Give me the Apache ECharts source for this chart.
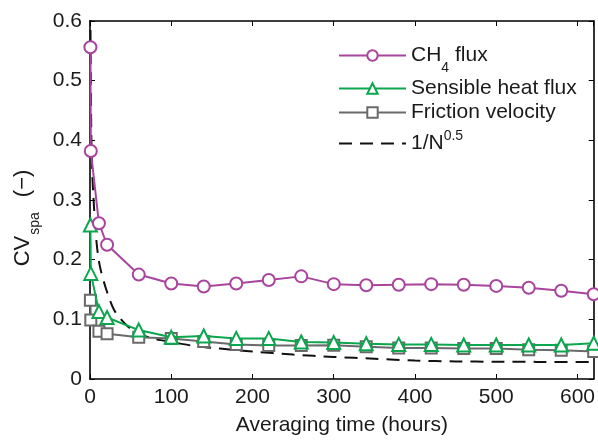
<!DOCTYPE html>
<html>
<head>
<meta charset="utf-8">
<script src="https://cdn.jsdelivr.net/npm/echarts@6/dist/echarts.min.js"></script>
<style>html,body{margin:0;padding:0;background:#fff;}#c{width:598px;height:441px;}</style>
</head>
<body>
<div id="c"></div>
<script>
// Averaging times (hours)
var times = [0.5, 1, 11, 21, 60, 100, 140, 180, 220, 260, 300, 340, 380, 420, 460, 500, 540, 580, 620];
var ch4Flux = [0.556, 0.382, 0.261, 0.225, 0.175, 0.160, 0.155, 0.160, 0.166, 0.172, 0.159, 0.157, 0.158, 0.159, 0.158, 0.156, 0.153, 0.148, 0.142];
var sensibleHeat = [0.258, 0.177, 0.113, 0.103, 0.082, 0.070, 0.072, 0.068, 0.068, 0.062, 0.061, 0.059, 0.058, 0.058, 0.057, 0.057, 0.057, 0.057, 0.060];
var frictionVel = [0.132, 0.099, 0.080, 0.076, 0.070, 0.068, 0.063, 0.058, 0.056, 0.056, 0.0565, 0.054, 0.052, 0.052, 0.051, 0.051, 0.049, 0.048, 0.046];
// 1/N^0.5 reference curve
var refTimes = [0.5, 1, 2, 4, 8, 12, 20, 30, 45, 60, 80, 100, 130, 160, 200, 250, 300, 350, 400, 450, 500, 550, 620];
var refValues = [0.62, 0.5, 0.38, 0.31, 0.23, 0.19, 0.15, 0.115, 0.09, 0.076, 0.067, 0.062, 0.055, 0.051, 0.046, 0.041, 0.037, 0.034, 0.031, 0.0295, 0.029, 0.0287, 0.0285];
var seriesNames = ['CH4 flux', 'Sensible heat flux', 'Friction velocity', '1/N^0.5'];

function pairs(xs, ys) { return xs.map(function (x, i) { return [x, ys[i]]; }); }

var FONT = '"Liberation Sans", Arial, Helvetica, sans-serif';
var TXT = '#1a1a1a';
var chart = echarts.init(document.getElementById('c'), null, { renderer: 'canvas' });

var axisLineStyle = { color: '#000', width: 1.6 };
var legendText = {
  fontSize: 21, fontFamily: FONT, color: TXT, padding: [0, 0, 0, 0],
  rich: {
    n: { fontSize: 21, fontFamily: FONT, color: TXT, lineHeight: 23 },
    sub: { fontSize: 14, fontFamily: FONT, color: TXT, lineHeight: 23, verticalAlign: 'bottom', padding: [0, 0, -8, 0] },
    sup: { fontSize: 14, fontFamily: FONT, color: TXT, lineHeight: 23, verticalAlign: 'top', padding: [-3, 0, 0, 0] }
  }
};
function legendFormatter(name) {
  if (name === 'CH4 flux') return '{n|CH}{sub|4}{n| flux}';
  if (name === '1/N^0.5') return '{n|1/N}{sup|0.5}';
  return '{n|' + name + '}';
}
chart.setOption({
  animation: false,
  backgroundColor: '#fff',
  grid: { left: 90, right: 2, top: 21, bottom: 56, containLabel: false },
  xAxis: [
    {
      type: 'value', min: 0, max: 620, interval: 100, position: 'bottom',
      axisLine: { show: true, onZero: false, lineStyle: axisLineStyle },
      axisTick: { show: true, inside: true, length: 5, lineStyle: { color: '#000', width: 1 } },
      splitLine: { show: false },
      axisLabel: { show: true, showMaxLabel: false, margin: 8, fontSize: 21, fontFamily: FONT, color: TXT },
      name: 'Averaging time (hours)', nameLocation: 'middle', nameGap: 36,
      nameTextStyle: { fontSize: 21, fontFamily: FONT, color: TXT }
    },
    {
      type: 'value', min: 0, max: 620, interval: 100, position: 'top',
      axisLine: { show: true, onZero: false, lineStyle: axisLineStyle },
      axisTick: { show: true, inside: true, length: 5, lineStyle: { color: '#000', width: 1 } },
      splitLine: { show: false }, axisLabel: { show: false }
    }
  ],
  yAxis: [
    {
      type: 'value', min: 0, max: 0.6, interval: 0.1, position: 'left',
      axisLine: { show: true, onZero: false, lineStyle: axisLineStyle },
      axisTick: { show: true, inside: true, length: 5, lineStyle: { color: '#000', width: 1 } },
      splitLine: { show: false },
      axisLabel: { margin: 8, fontSize: 21, fontFamily: FONT, color: TXT,
        formatter: function (v) { return v === 0 ? '0' : v.toFixed(1); } },
      name: '{m|CV}{s|spa}{g| }{m|(\u2212)}', nameLocation: 'middle', nameGap: 52, nameRotate: 90,
      nameTextStyle: {
        fontFamily: FONT, color: TXT, padding: [0, 36, 0, 0],
        rich: {
          m: { fontSize: 22, fontFamily: FONT, color: TXT, verticalAlign: 'bottom', lineHeight: 24 },
          g: { fontSize: 22, fontFamily: FONT, color: TXT, verticalAlign: 'bottom', lineHeight: 24, padding: [0, 9, 0, 0] },
          s: { fontSize: 14, fontFamily: FONT, color: TXT, verticalAlign: 'bottom', lineHeight: 24, padding: [0, 0, -8, 1] }
        }
      }
    },
    {
      type: 'value', min: 0, max: 0.6, interval: 0.1, position: 'right',
      axisLine: { show: true, onZero: false, lineStyle: axisLineStyle },
      axisTick: { show: true, inside: true, length: 5, lineStyle: { color: '#000', width: 1 } },
      splitLine: { show: false }, axisLabel: { show: false }
    }
  ],
  legend: [
    {
      left: 333, top: 40, orient: 'vertical', itemWidth: 67, itemHeight: 13, itemGap: 3,
      data: [seriesNames[0], seriesNames[1], seriesNames[2]],
      textStyle: legendText, formatter: legendFormatter
    },
    {
      left: 333, top: 124, orient: 'vertical', itemWidth: 67, itemHeight: 13,
      data: [{ name: seriesNames[3], itemStyle: { opacity: 0 } }],
      textStyle: legendText, formatter: legendFormatter
    }
  ],
  series: [
    {
      name: seriesNames[0], type: 'line', data: pairs(times, ch4Flux), z: 5,
      symbol: 'circle', symbolSize: 12,
      lineStyle: { color: '#a9449e', width: 2 },
      itemStyle: { color: '#fff', borderColor: '#a9449e', borderWidth: 2 },
      color: '#a9449e'
    },
    {
      name: seriesNames[1], type: 'line', data: pairs(times, sensibleHeat), z: 4,
      symbol: 'triangle', symbolSize: 13,
      lineStyle: { color: '#0ba64d', width: 2 },
      itemStyle: { color: '#fff', borderColor: '#0ba64d', borderWidth: 2 },
      color: '#0ba64d'
    },
    {
      name: seriesNames[2], type: 'line', data: pairs(times, frictionVel), z: 3,
      symbol: 'rect', symbolSize: 11,
      lineStyle: { color: '#6a6a6a', width: 2 },
      itemStyle: { color: '#fff', borderColor: '#6a6a6a', borderWidth: 2 },
      color: '#6a6a6a'
    },
    {
      name: seriesNames[3], type: 'line', data: pairs(refTimes, refValues), z: 2,
      symbol: 'none', smooth: 0.3, clip: true,
      lineStyle: { color: '#111', width: 2, type: [13, 8] },
      itemStyle: { color: '#111' },
      color: '#111'
    }
  ]
});
</script>
</body>
</html>
